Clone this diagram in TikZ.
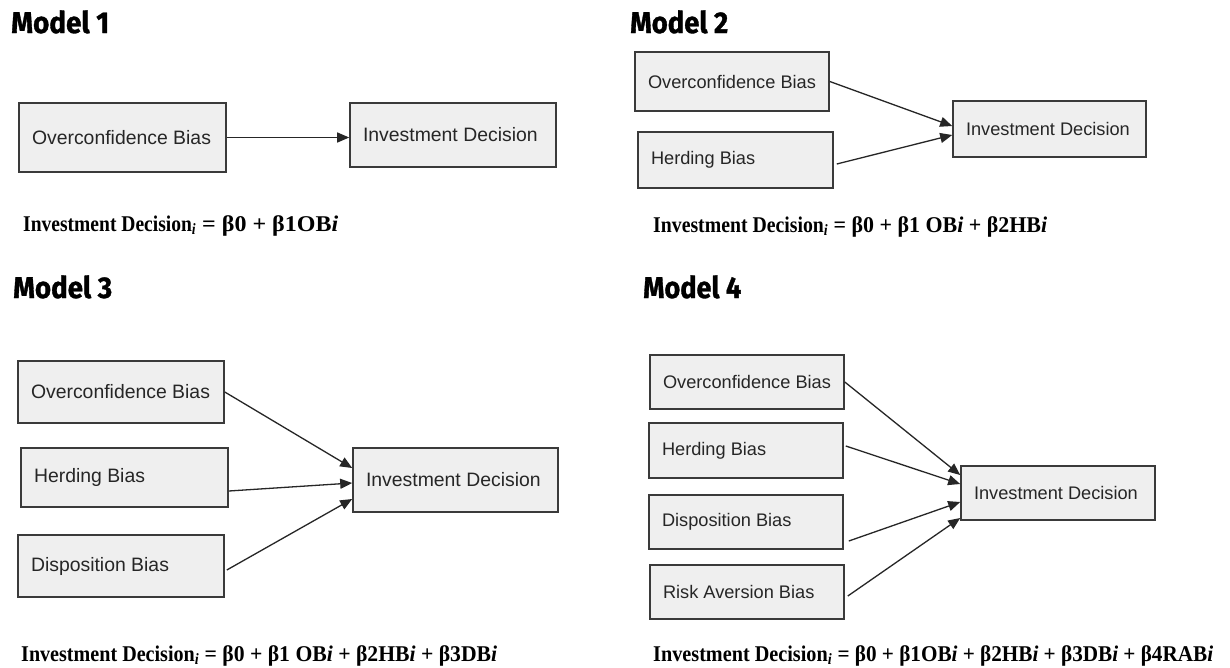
\documentclass[tikz,border=0pt]{standalone}
\usepackage{fontspec}
\usepackage{graphicx}
\setmainfont{Liberation Sans}
\newfontfamily\titlefont[FakeBold=1.2]{Fira Sans}
\newfontfamily\eqfont{Liberation Serif}
\usetikzlibrary{arrows.meta,calc}
\definecolor{boxfill}{HTML}{EFEFEF}
\definecolor{boxline}{HTML}{3A3A3A}
\definecolor{txt}{HTML}{262626}
\definecolor{arrc}{HTML}{262626}
\newcommand{\eqpre}[1]{\resizebox{#1}{\height}{Investment Decision\textsubscript{\itshape i}}}
\tikzset{
  bx/.style={draw=boxline, fill=boxfill, line width=1.6pt, rectangle, anchor=center,
    inner xsep=13pt, inner ysep=0pt, text=txt,
    font=\fontsize{19.4}{22}\selectfont},
  bxs/.style={bx, font=\fontsize{18.2}{21}\selectfont},
  arr/.style={draw=arrc, line width=1.3pt, -{Triangle[length=12pt,width=10pt]}},
  ttl/.style={anchor=base west, inner sep=0pt, font=\titlefont\bfseries\fontsize{30}{31}\selectfont},
  eqn/.style={anchor=base west, inner sep=0pt, font=\eqfont\bfseries\fontsize{22.5}{25}\selectfont},
}
\begin{document}
\begin{tikzpicture}[x=1pt,y=-1pt]
\useasboundingbox[fill=white] (0,0) rectangle (1230,667);

% ---------- Model 1 ----------
\node[ttl] (t1) at (11,33) {\resizebox{98pt}{\height}{Model 1}};
\node[bx, minimum width=207pt, minimum height=69pt] (OB1) at (122.5,137.5) {\makebox[181pt][l]{Overconfidence Bias}};
\node[bx, minimum width=206pt, minimum height=64pt] (ID1) at (453,135) {\makebox[180pt][l]{Investment Decision}};
\draw[arr] (OB1.east) -- (OB1.east -| ID1.west);
\node[eqn] (e1) at (23,231) {\eqpre{173pt}\resizebox{142pt}{\height}{\ = β0 + β1OB\textit{i}}};

% ---------- Model 2 ----------
\node[ttl] (t2) at (630,33) {\resizebox{98pt}{\height}{Model 2}};
\node[bxs, minimum width=194pt, minimum height=59pt] (OB2) at (732,81.5) {\makebox[168pt][l]{Overconfidence Bias}};
\node[bxs, minimum width=195pt, minimum height=56pt] (HB2) at (735.5,160) {\makebox[169pt][l]{Herding Bias}};
\node[bxs, minimum width=193pt, minimum height=56pt] (ID2) at (1049.5,129) {\makebox[167pt][l]{Investment Decision}};
\draw[arr] (OB2.east) -- ($(ID2.west)+(0,-3)$);
\draw[arr] ($(HB2.east)+(3,4)$) -- ($(ID2.west)+(0,6)$);
\node[eqn] (e2) at (653,232) {\eqpre{175pt}\resizebox{219pt}{\height}{\ = β0 + β1 OB\textit{i} + β2HB\textit{i}}};

% ---------- Model 3 ----------
\node[ttl] (t3) at (13,298) {\resizebox{99pt}{\height}{Model 3}};
\node[bx, minimum width=206pt, minimum height=62pt] (OB3) at (121,392) {\makebox[180pt][l]{Overconfidence Bias}};
\node[bx, minimum width=207pt, minimum height=59pt] (HB3) at (124.5,477.5) {\makebox[181pt][l]{Herding Bias}};
\node[bx, minimum width=206pt, minimum height=62pt] (DB3) at (121,566) {\makebox[180pt][l]{Disposition Bias}};
\node[bx, minimum width=205pt, minimum height=64pt] (ID3) at (455.5,480) {\makebox[179pt][l]{Investment Decision}};
\draw[arr] (OB3.east) -- ($(ID3.west)+(0,-12)$);
\draw[arr] ($(HB3.east)+(0,13.5)$) -- ($(ID3.west)+(0,3)$);
\draw[arr] ($(DB3.east)+(2,4)$) -- ($(ID3.west)+(0,19)$);
\node[eqn] (e3) at (21,661) {\eqpre{178pt}\resizebox{298pt}{\height}{\ = β0 + β1 OB\textit{i} + β2HB\textit{i} + β3DB\textit{i}}};

% ---------- Model 4 ----------
\node[ttl] (t4) at (643,298) {\resizebox{98pt}{\height}{Model 4}};
\node[bxs, minimum width=194pt, minimum height=54pt] (OB4) at (747,382) {\makebox[168pt][l]{Overconfidence Bias}};
\node[bxs, minimum width=194pt, minimum height=55pt] (HB4) at (746,450.5) {\makebox[168pt][l]{Herding Bias}};
\node[bxs, minimum width=194pt, minimum height=54pt] (DB4) at (746,522) {\makebox[168pt][l]{Disposition Bias}};
\node[bxs, minimum width=194pt, minimum height=54pt] (RAB4) at (747,592) {\makebox[168pt][l]{Risk Aversion Bias}};
\node[bxs, minimum width=194pt, minimum height=54pt] (ID4) at (1058,493) {\makebox[168pt][l]{Investment Decision}};
\draw[arr] (OB4.east) -- ($(ID4.west)+(0,-18)$);
\draw[arr] ($(HB4.east)+(2,-4.5)$) -- ($(ID4.west)+(0,-9)$);
\draw[arr] ($(DB4.east)+(5,19)$) -- ($(ID4.west)+(0,9)$);
\draw[arr] ($(RAB4.east)+(3,4)$) -- ($(ID4.west)+(0,25)$);
\node[eqn] (e4) at (653,661) {\eqpre{179pt}\resizebox{381pt}{\height}{\ = β0 + β1OB\textit{i} + β2HB\textit{i} + β3DB\textit{i} + β4RAB\textit{i}}};
\end{tikzpicture}
\end{document}
